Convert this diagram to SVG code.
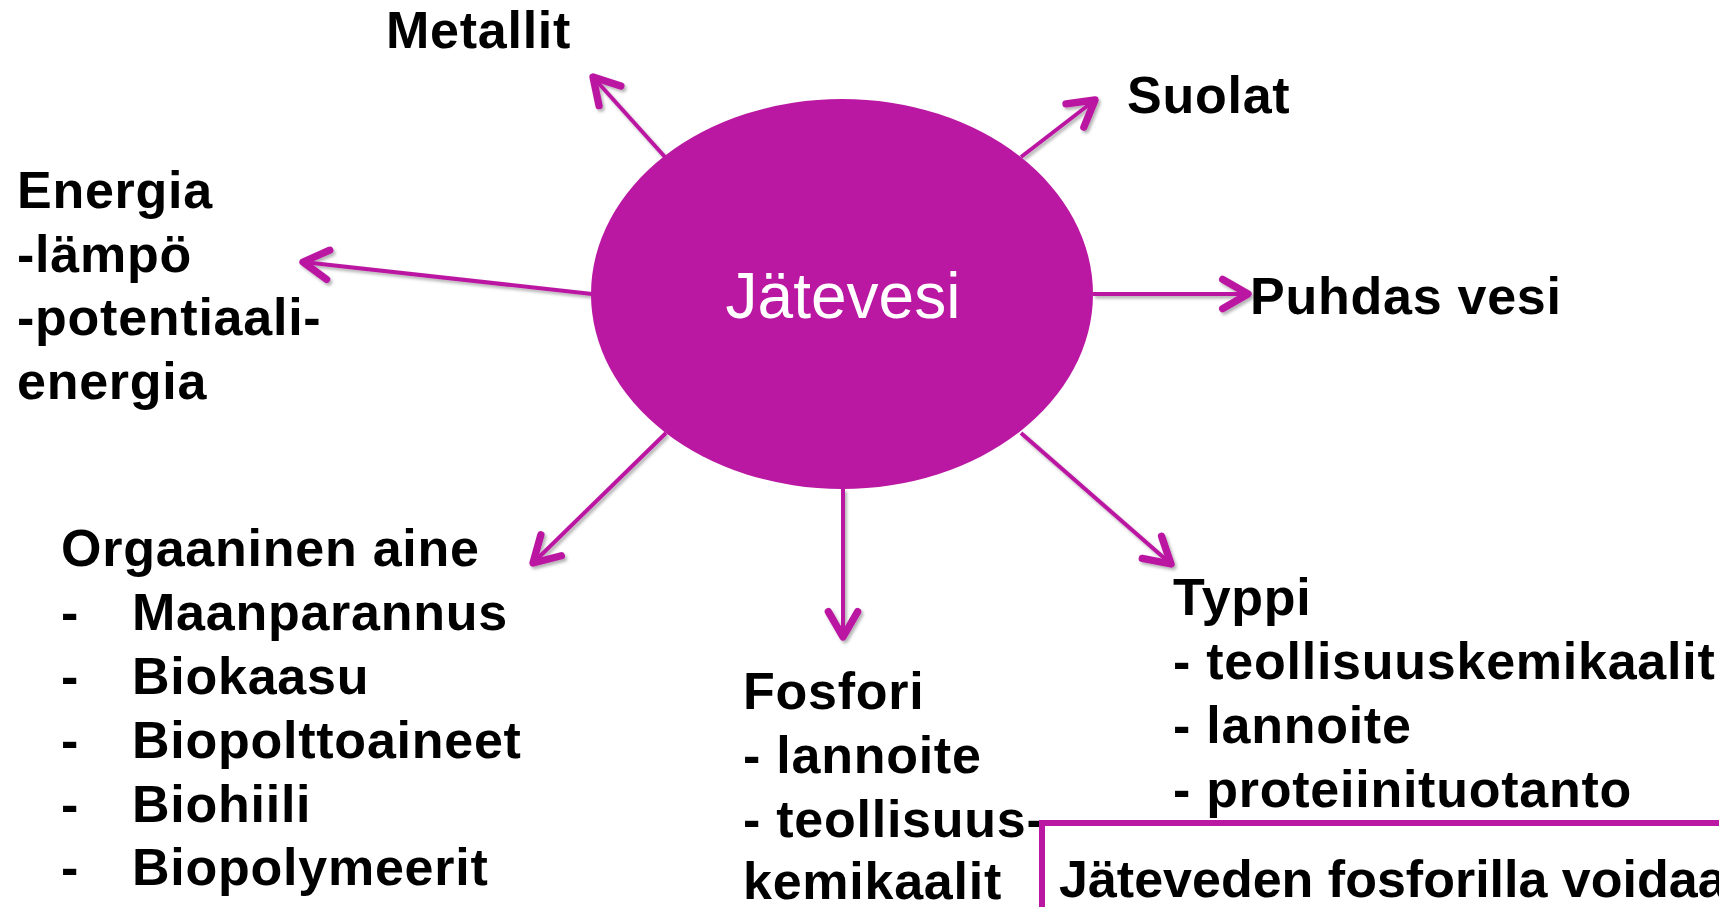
<svg xmlns="http://www.w3.org/2000/svg" width="1719" height="907" viewBox="0 0 1719 907">
<defs>
<style>
.lbl{font-family:"Liberation Sans",Arial,sans-serif;font-weight:bold;font-size:52px;fill:#000;letter-spacing:0.75px}
.note{letter-spacing:0}
.conn{stroke:#BA18A2;stroke-width:4;fill:none;marker-end:url(#arr)}
</style>
<filter id="sh" x="-20%" y="-20%" width="140%" height="140%">
<feDropShadow dx="2" dy="2.5" stdDeviation="1.5" flood-color="#000" flood-opacity="0.3"/>
</filter>
<marker id="arr" markerUnits="userSpaceOnUse" markerWidth="40" markerHeight="40" refX="0" refY="0" viewBox="-25 -15 30 30" orient="auto" overflow="visible">
<path d="M-19,-11 L0,0 L-19,11" fill="none" stroke="#BA18A2" stroke-width="5.5" stroke-linecap="round" stroke-linejoin="round"/>
</marker>
</defs>
<rect width="1719" height="907" fill="#fff"/>
<g id="connectors" filter="url(#sh)">
<line class="conn" x1="665" y1="157" x2="593" y2="77"/>
<line class="conn" x1="1021" y1="157" x2="1095" y2="100"/>
<line class="conn" x1="592" y1="294" x2="303" y2="262"/>
<line class="conn" x1="1093" y1="294" x2="1248" y2="294"/>
<line class="conn" x1="666" y1="433" x2="533" y2="563"/>
<line class="conn" x1="843" y1="489" x2="843" y2="637"/>
<line class="conn" x1="1021" y1="433" x2="1171" y2="564"/>
</g>
<g id="jatevesi">
<ellipse cx="842" cy="294" rx="251" ry="195" fill="#BA18A2"/>
<text x="843" y="318" text-anchor="middle" font-family="Liberation Sans, Arial, sans-serif" font-size="64" fill="#fff">Jätevesi</text>
</g>
<g id="metallit"><text class="lbl" x="386" y="48">Metallit</text></g>
<g id="suolat"><text class="lbl" x="1127" y="113">Suolat</text></g>
<g id="energia">
<text class="lbl" x="17" y="208">Energia</text>
<text class="lbl" x="17" y="272">-lämpö</text>
<text class="lbl" x="17" y="335">-potentiaali-</text>
<text class="lbl" x="17" y="399">energia</text>
</g>
<g id="puhdas-vesi"><text class="lbl" x="1250" y="314">Puhdas vesi</text></g>
<g id="orgaaninen-aine">
<text class="lbl" x="61" y="566">Orgaaninen aine</text>
<text class="lbl" x="61" y="630">-</text><text class="lbl" x="132" y="630">Maanparannus</text>
<text class="lbl" x="61" y="694">-</text><text class="lbl" x="132" y="694">Biokaasu</text>
<text class="lbl" x="61" y="758">-</text><text class="lbl" x="132" y="758">Biopolttoaineet</text>
<text class="lbl" x="61" y="822">-</text><text class="lbl" x="132" y="822">Biohiili</text>
<text class="lbl" x="61" y="885">-</text><text class="lbl" x="132" y="885">Biopolymeerit</text>
</g>
<g id="fosfori">
<text class="lbl" x="743" y="709">Fosfori</text>
<text class="lbl" x="743" y="773">- lannoite</text>
<text class="lbl" x="743" y="837">- teollisuus-</text>
<text class="lbl" x="743" y="899">kemikaalit</text>
</g>
<g id="typpi">
<text class="lbl" x="1173" y="615">Typpi</text>
<text class="lbl" x="1173" y="679">- teollisuuskemikaalit</text>
<text class="lbl" x="1173" y="743">- lannoite</text>
<text class="lbl" x="1173" y="807">- proteiinituotanto</text>
</g>
<g id="fosfori-note">
<rect x="1042" y="823" width="800" height="200" fill="#fff" stroke="#BA18A2" stroke-width="6"/>
<text class="lbl note" x="1059" y="897">Jäteveden fosforilla voidaan</text>
</g>
</svg>
